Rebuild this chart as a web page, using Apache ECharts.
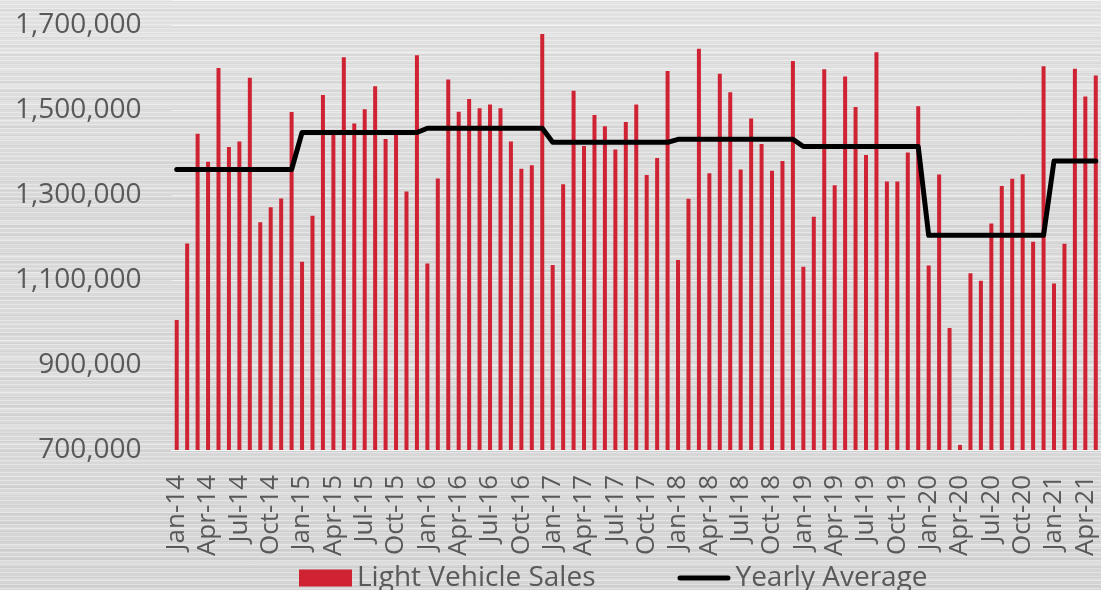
<!DOCTYPE html>
<html>
<head>
<meta charset="utf-8">
<script src="https://cdn.jsdelivr.net/npm/echarts@6/dist/echarts.min.js"></script>
<style>
  html, body { margin: 0; padding: 0; }
  #chart {
    width: 1101px; height: 590px;
    /* brushed-metal backdrop */
    background:
      repeating-linear-gradient(180deg, rgba(255,255,255,0.35) 0 1px, transparent 1px 4px),
      repeating-linear-gradient(180deg, rgba(0,0,0,0.035) 0 2px, transparent 2px 9px),
      repeating-linear-gradient(180deg, rgba(255,255,255,0.18) 0 3px, transparent 3px 17px),
      linear-gradient(180deg, #e2e2e2 0%, #d8d8d8 35%, #dadada 60%, #d4d4d4 100%);
  }
</style>
</head>
<body>
<div id="chart"></div>
<script>
// Monthly light vehicle sales, Jan-14 .. May-21
const monthNames = ['Jan','Feb','Mar','Apr','May','Jun','Jul','Aug','Sep','Oct','Nov','Dec'];
const years = ['14','15','16','17','18','19','20','21'];

const sales2014 = [1006000, 1186000, 1444000, 1378000, 1599000, 1413000, 1426000, 1576000, 1236000, 1271000, 1292000, 1495000];
const sales2015 = [1143000, 1251000, 1535000, 1445000, 1624000, 1468000, 1502000, 1556000, 1432000, 1445000, 1308000, 1629000];
const sales2016 = [1139000, 1339000, 1572000, 1496000, 1526000, 1504000, 1513000, 1504000, 1426000, 1362000, 1370000, 1679000];
const sales2017 = [1135000, 1325000, 1545000, 1415000, 1488000, 1462000, 1407000, 1472000, 1513000, 1347000, 1387000, 1592000];
const sales2018 = [1147000, 1291000, 1644000, 1351000, 1585000, 1542000, 1360000, 1480000, 1420000, 1357000, 1380000, 1615000];
const sales2019 = [1131000, 1249000, 1596000, 1323000, 1579000, 1507000, 1394000, 1636000, 1332000, 1332000, 1400000, 1509000];
const sales2020 = [1134000, 1348000, 987000, 712000, 1116000, 1098000, 1233000, 1321000, 1338000, 1349000, 1190000, 1603000];
const sales2021 = [1092000, 1185000, 1597000, 1532000, 1581000];

// Average of each calendar year
const yearlyAverage = [1360000, 1447000, 1457000, 1424000, 1431000, 1414000, 1205000, 1380000];

// value axis: labelled every 200,000 from 700,000; the plot runs a little past 1,700,000
const yMin = 700000;
const yInterval = 200000;
const yMax = 1758800;

const salesByYear = [sales2014, sales2015, sales2016, sales2017, sales2018, sales2019, sales2020, sales2021];
const categories = [];
const sales = [];
const avgLine = [];
salesByYear.forEach((vals, yi) => {
  vals.forEach((v, mi) => {
    categories.push(monthNames[mi] + '-' + years[yi]);
    sales.push(v);
    avgLine.push(yearlyAverage[yi]);
  });
});

const textColor = '#595959';
const font = '"Open Sans", sans-serif';

const chart = echarts.init(document.getElementById('chart'), null, { renderer: 'canvas' });
chart.setOption({
  backgroundColor: 'transparent',
  animation: false,
  textStyle: { fontFamily: font },
  grid: { left: 171.5, width: 932, top: 0, bottom: 140, containLabel: false },
  legend: {
    left: 299,
    top: 561,
    padding: 0,
    itemWidth: 53,
    itemHeight: 17,
    itemGap: 82,
    itemTextGap: 6,
    textStyle: { color: textColor, fontSize: 28, fontFamily: font, lineHeight: 34 },
    data: [
      { name: 'Light Vehicle Sales', icon: 'rect' },
      { name: 'Yearly Average', icon: 'path://M2.5,0 L50.5,0 A2.5,2.5 0 0 1 50.5,5 L2.5,5 A2.5,2.5 0 0 1 2.5,0 Z' }
    ]
  },
  xAxis: {
    type: 'category',
    data: categories,
    boundaryGap: true,
    axisLine: { show: true, lineStyle: { color: 'rgba(255,255,255,0.7)', width: 1 } },
    axisTick: { show: false },
    axisLabel: {
      interval: 2,
      rotate: 90,
      margin: 25,
      color: textColor,
      fontSize: 26,
      fontFamily: font
    },
    splitLine: { show: false }
  },
  yAxis: {
    type: 'value',
    min: yMin,
    max: yMax,
    interval: yInterval,
    axisLine: { show: false },
    axisTick: { show: false },
    axisLabel: {
      margin: 30,
      showMaxLabel: false,
      color: textColor,
      fontSize: 28,
      fontFamily: font,
      formatter: v => (v % yInterval === (yMin % yInterval)) ? v.toLocaleString('en-US') : ''
    },
    splitLine: { show: true, lineStyle: { color: 'rgba(255,255,255,0.55)', width: 1 } }
  },
  series: [
    {
      name: 'Light Vehicle Sales',
      type: 'bar',
      data: sales,
      barWidth: 4,
      itemStyle: { color: '#cf2233' }
    },
    {
      name: 'Yearly Average',
      type: 'line',
      data: avgLine,
      symbol: 'none',
      itemStyle: { color: '#000000' },
      lineStyle: { color: '#000000', width: 5, cap: 'round', join: 'round' },
      z: 5
    }
  ]
});
</script>
</body>
</html>
